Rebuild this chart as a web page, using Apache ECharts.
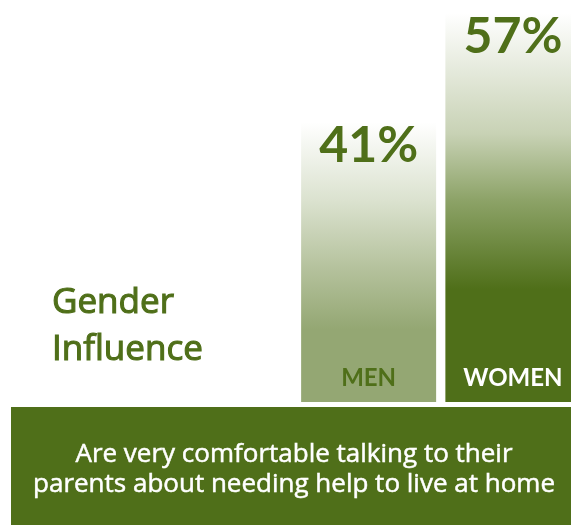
<!DOCTYPE html>
<html>
<head>
<meta charset="utf-8">
<script src="https://cdn.jsdelivr.net/npm/echarts@6/dist/echarts.min.js"></script>
<style>
html,body{margin:0;padding:0;background:#fff;overflow:hidden;}
#c{width:585px;height:525px;}
</style>
</head>
<body>
<div id="c"></div>
<script>
var categories = ['MEN', 'WOMEN'];
var values = [41, 57];
var labelColors = ['#4f6f19', '#ffffff'];
var titleText = 'Gender\nInfluence';
var captionText = 'Are very comfortable talking to their\nparents about needing help to live at home';

var GREEN = '#4f6f19';
var gradients = [
  new echarts.graphic.LinearGradient(0, 0, 0, 1, [
    {offset: 0, color: '#ffffff'},
    {offset: 0.28, color: '#dbe2cf'},
    {offset: 0.52, color: '#b5c29d'},
    {offset: 0.74, color: '#94a773'},
    {offset: 1, color: '#94a773'}
  ]),
  new echarts.graphic.LinearGradient(0, 0, 0, 1, [
    {offset: 0, color: '#ffffff'},
    {offset: 0.31, color: '#c8d2b5'},
    {offset: 0.48, color: '#8da368'},
    {offset: 0.71, color: '#4f6f19'},
    {offset: 1, color: '#4f6f19'}
  ])
];

var chart = echarts.init(document.getElementById('c'), null, {renderer: 'canvas'});
chart.setOption({
  animation: false,
  backgroundColor: '#ffffff',
  title: {
    text: titleText,
    left: 47,
    top: 275,
    textStyle: {
      color: GREEN,
      fontFamily: 'Open Sans',
      fontWeight: 'normal',
      fontSize: 35,
      lineHeight: 47,
      textBorderColor: GREEN,
      textBorderWidth: 1.1
    }
  },
  grid: {left: 296.5, right: 0, top: 13, bottom: 123},
  xAxis: {
    type: 'category',
    data: categories,
    axisLine: {show: false},
    axisTick: {show: false},
    axisLabel: {
      inside: true,
      margin: 12,
      fontFamily: 'Lato',
      fontWeight: 'bold',
      fontSize: 24,
      color: function (v, i) { return labelColors[i]; }
    },
    z: 10
  },
  yAxis: {
    type: 'value',
    min: 0,
    max: 57,
    show: false
  },
  series: [{
    type: 'bar',
    barWidth: 135,
    data: values.map(function (v, i) {
      return {value: v, itemStyle: {color: gradients[i]}};
    }),
    label: {
      show: true,
      position: 'insideTop',
      distance: -1,
      formatter: '{c}%',
      color: GREEN,
      fontFamily: 'Lato',
      fontWeight: 'bold',
      fontSize: 50,
      lineHeight: 50
    }
  }],
  graphic: [
    {
      type: 'rect',
      left: 11,
      top: 407,
      shape: {width: 574, height: 118},
      style: {fill: GREEN},
      silent: true
    },
    {
      type: 'text',
      x: 294,
      y: 470,
      style: {
        text: captionText,
        fill: '#ffffff',
        fontFamily: 'Open Sans',
        fontSize: 26,
        fontWeight: 'normal',
        align: 'center',
        verticalAlign: 'middle',
        lineHeight: 30,
        stroke: '#ffffff',
        lineWidth: 0.5
      }
    }
  ]
});
</script>
</body>
</html>
